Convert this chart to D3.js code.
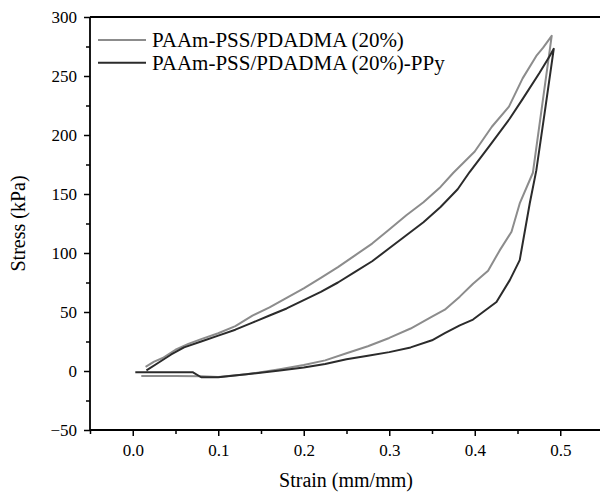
<!DOCTYPE html>
<html>
<head>
<meta charset="utf-8">
<script src="https://cdn.jsdelivr.net/npm/d3@7/dist/d3.min.js"></script>
</head>
<body style="margin:0;padding:0;background:#fff">
<svg id="chart" width="600" height="501" style="display:block"></svg>
<script>
// ---------- data ----------
const seriesNames = ["PAAm-PSS/PDADMA (20%)", "PAAm-PSS/PDADMA (20%)-PPy"];
const seriesColors = ["#8c8c8c", "#2b2b2b"];

// Series 1: PAAm-PSS/PDADMA (20%)  (loading then unloading)
const strain1 = [0.015, 0.025, 0.035, 0.05, 0.065, 0.08, 0.1, 0.12, 0.14, 0.16, 0.18, 0.2, 0.22, 0.24, 0.26, 0.28, 0.3, 0.32, 0.34, 0.36, 0.375, 0.4, 0.42, 0.44, 0.456, 0.472, 0.48, 0.49,
                 0.468, 0.4526, 0.443, 0.429, 0.4156, 0.398, 0.3825, 0.365, 0.35, 0.325, 0.3, 0.275, 0.25, 0.225, 0.2, 0.172, 0.133, 0.1, 0.08, 0.05, 0.01];
const stress1 = [3.5, 8, 11, 18, 23, 27, 32, 38, 47, 54, 62, 70, 79, 88, 98, 108, 120, 132, 143, 156, 168, 186, 207, 224, 248, 267, 274, 284,
                 168, 142, 118, 102, 85, 74, 63, 52, 46, 36, 28, 21, 15, 9, 5, 1.5, -2.8, -5, -4.5, -4.2, -4.2];

// Series 2: PAAm-PSS/PDADMA (20%)-PPy  (loading then unloading)
const strain2 = [0.016, 0.03, 0.045, 0.06, 0.08, 0.1, 0.12, 0.14, 0.16, 0.18, 0.2, 0.22, 0.24, 0.26, 0.28, 0.3, 0.32, 0.34, 0.36, 0.38, 0.394, 0.4175, 0.441, 0.4565, 0.476, 0.4877, 0.4924,
                 0.482, 0.472, 0.4643, 0.4526, 0.441, 0.4254, 0.4097, 0.398, 0.3825, 0.365, 0.35, 0.325, 0.3, 0.275, 0.25, 0.225, 0.2, 0.172, 0.133, 0.1, 0.08, 0.07, 0.003];
const stress2 = [0.5, 7, 14, 20, 25, 30, 35, 41, 47, 53, 60, 67, 75, 84, 93, 104, 115, 126, 139, 154, 168.6, 191, 214, 231, 253, 267, 273,
                 220, 170, 142, 94, 77, 58.5, 50, 43.6, 38.7, 32, 26, 20, 16, 13, 10, 6, 3, 0.5, -2.8, -5.3, -5.3, -1, -1];

const xMajorTicks = [0.0, 0.1, 0.2, 0.3, 0.4, 0.5];
const xMinorTicks = [-0.05, 0.05, 0.15, 0.25, 0.35, 0.45];
const yMajorTicks = [-50, 0, 50, 100, 150, 200, 250, 300];
const yMinorTicks = [-25, 25, 75, 125, 175, 225, 275];

// ---------- layout ----------
(function () {
const svg = d3.select("#chart");
const serif = (sel, size) => sel.attr("font-family", "Liberation Serif").attr("font-size", size)
  .attr("style", `font-family:'Liberation Serif', serif; font-size:${size}px`);
const mLeft = 90, mRight = 603, mTop = 17, mBottom = 430;

const x = d3.scaleLinear().domain([-0.05, 0.55]).range([mLeft, mRight]);
const y = d3.scaleLinear().domain([-50, 300]).range([mBottom, mTop]);

const fmtX = d3.format(".1f");

// x axis: major
const gx = svg.append("g").attr("transform", `translate(0,${mBottom})`)
  .call(d3.axisBottom(x).tickValues(xMajorTicks).tickSize(6).tickPadding(8).tickFormat(fmtX));
gx.attr("font-family", null).attr("font-size", null);
gx.select(".domain").remove();
gx.selectAll("line").attr("stroke", "#000").attr("stroke-width", 1.5);
serif(gx.selectAll("text").attr("fill", "#000"), 17);
const gxm = svg.append("g").attr("transform", `translate(0,${mBottom})`)
  .call(d3.axisBottom(x).tickValues(xMinorTicks).tickSize(4).tickFormat(""));
gxm.select(".domain").remove();
gxm.selectAll("line").attr("stroke", "#000").attr("stroke-width", 1.5);

// y axis: major
const gy = svg.append("g").attr("transform", `translate(${mLeft},0)`)
  .call(d3.axisLeft(y).tickValues(yMajorTicks).tickSize(6).tickPadding(7).tickFormat(d3.format("d")));
gy.attr("font-family", null).attr("font-size", null);
gy.select(".domain").remove();
gy.selectAll("line").attr("stroke", "#000").attr("stroke-width", 1.5);
serif(gy.selectAll("text").attr("fill", "#000"), 17);
const gym = svg.append("g").attr("transform", `translate(${mLeft},0)`)
  .call(d3.axisLeft(y).tickValues(yMinorTicks).tickSize(4).tickFormat(""));
gym.select(".domain").remove();
gym.selectAll("line").attr("stroke", "#000").attr("stroke-width", 1.5);

// frame lines (left, bottom, top)
svg.append("line").attr("x1", mLeft).attr("x2", mLeft).attr("y1", mTop).attr("y2", mBottom)
  .attr("stroke", "#000").attr("stroke-width", 1.8);
svg.append("line").attr("x1", mLeft).attr("x2", mRight).attr("y1", mBottom).attr("y2", mBottom)
  .attr("stroke", "#000").attr("stroke-width", 1.8);
svg.append("line").attr("x1", mLeft).attr("x2", mRight).attr("y1", mTop).attr("y2", mTop)
  .attr("stroke", "#000").attr("stroke-width", 1.8);

// data lines
const line = d3.line().x(d => x(d[0])).y(d => y(d[1]));
const data1 = strain1.map((s, i) => [s, stress1[i]]);
const data2 = strain2.map((s, i) => [s, stress2[i]]);

svg.append("path").datum(data1).attr("d", line)
  .attr("fill", "none").attr("stroke", seriesColors[0]).attr("stroke-width", 2).attr("stroke-linejoin", "round");
svg.append("path").datum(data2).attr("d", line)
  .attr("fill", "none").attr("stroke", seriesColors[1]).attr("stroke-width", 2).attr("stroke-linejoin", "round");

// legend
const legendY = [40, 62.7];
seriesNames.forEach((name, i) => {
  svg.append("line").attr("x1", 98).attr("x2", 146).attr("y1", legendY[i]).attr("y2", legendY[i])
    .attr("stroke", seriesColors[i]).attr("stroke-width", 2);
  serif(svg.append("text").attr("x", 152).attr("y", legendY[i] + 7)
    .attr("fill", "#000").text(name), 21);
});

// axis titles
serif(svg.append("text").attr("x", 346).attr("y", 487).attr("text-anchor", "middle")
  .attr("fill", "#000").text("Strain (mm/mm)"), 20);
serif(svg.append("text").attr("transform", `translate(25,${(mTop + mBottom) / 2}) rotate(-90)`)
  .attr("text-anchor", "middle").attr("fill", "#000").text("Stress (kPa)"), 20);
})();
</script>
</body>
</html>
